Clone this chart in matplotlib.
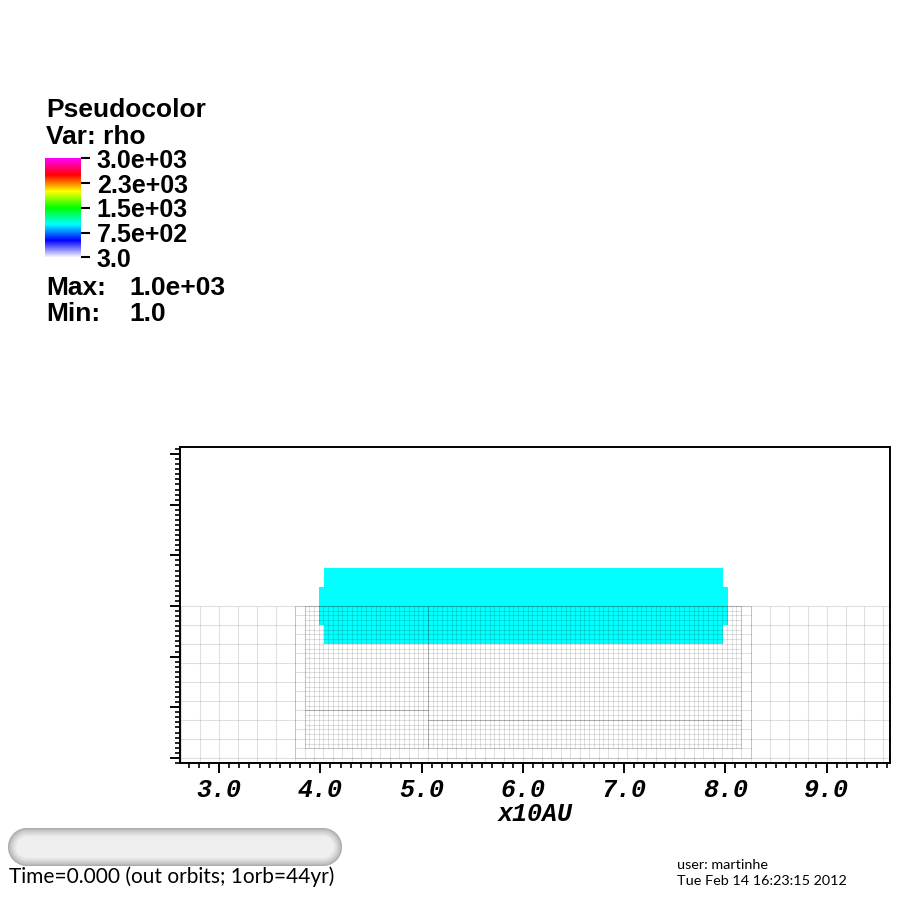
import numpy as np
import matplotlib
matplotlib.use('Agg')
import matplotlib.pyplot as plt
from matplotlib.colors import LinearSegmentedColormap
from matplotlib.collections import LineCollection
from matplotlib.ticker import MultipleLocator

# pseudocolor field rho on the disk cells (x edges, y edges in x10AU)
disk_x = [3.985, 4.035, 7.98, 8.03]
disk_y = [-0.375, -0.1875, 0.1875, 0.375]
disk_rho = [[1.0, 1000.0, 1.0],
            [1000.0, 1000.0, 1000.0],
            [1.0, 1000.0, 1.0]]
rho_min, rho_max = 3.0, 3000.0
cbar_ticks = [3.0, 752.25, 1501.5, 2250.75, 3000.0]
cbar_labels = ['3.0', '7.5e+02', '1.5e+03', '2.3e+03', '3.0e+03']
data_max = '1.0e+03'
data_min = '1.0'

# AMR mesh patches: (level, xlo, xhi, ylo, yhi)
level_dx = [0.1875, 0.09375, 0.046875]
patches = [(0, 2.625, 9.75, -1.5625, 0.0),
           (1, 3.75, 8.25, -1.5, 0.0),
           (2, 3.84375, 5.0625, -1.03125, 0.0),
           (2, 3.84375, 5.0625, -1.40625, -1.03125),
           (2, 5.0625, 8.15625, -1.125, 0.0),
           (2, 5.0625, 8.15625, -1.40625, -1.125)]

xticks = [3.0, 4.0, 5.0, 6.0, 7.0, 8.0, 9.0]
xtick_labels = ['3.0', '4.0', '5.0', '6.0', '7.0', '8.0', '9.0']
xlim = (2.614, 9.627)
ylim = (-1.551, 1.570)

cmap = LinearSegmentedColormap.from_list('visit', [
    (0.0, (0.97, 0.97, 1.0)), (0.17, (0.0, 0.0, 1.0)), (0.333, (0.0, 1.0, 1.0)),
    (0.5, (0.0, 1.0, 0.0)), (0.667, (1.0, 1.0, 0.0)), (0.833, (1.0, 0.0, 0.0)),
    (1.0, (1.0, 0.0, 1.0))])

W = 900.0
def fx(px): return px / W
def fy(py): return 1 - py / W


def uncovered(a0, a1, covers):
    '''parts of [a0, a1] not inside any of the cover intervals'''
    segs = [(a0, a1)]
    for c0, c1 in covers:
        new = []
        for s0, s1 in segs:
            if c1 <= s0 or c0 >= s1:
                new.append((s0, s1))
                continue
            if s0 < c0:
                new.append((s0, c0))
            if c1 < s1:
                new.append((c1, s1))
        segs = new
    return segs


fig = plt.figure(figsize=(9, 9), dpi=100)
ax = fig.add_axes([fx(180), fy(763), 710 / W, 316 / W])

rho = np.ma.masked_less(np.array(disk_rho), rho_min)
pc = ax.pcolormesh(disk_x, disk_y, rho, cmap=cmap, vmin=rho_min, vmax=rho_max, zorder=1)

# mesh lines; coarse lines are skipped where a finer patch covers them
segs = []
for lev, x0, x1, y0, y1 in patches:
    dx = level_dx[lev]
    finer = [p for p in patches if p[0] == lev + 1]
    xs = np.unique(np.r_[np.arange(x0, x1 + dx / 2, dx), x1])
    ys = np.unique(np.r_[np.arange(y1, y0 - dx / 2, -dx), y0])
    for x in xs:
        cov = [(p[3], p[4]) for p in finer if p[1] + 1e-9 < x < p[2] - 1e-9]
        for a, b in uncovered(y0, y1, cov):
            segs.append([(x, a), (x, b)])
    for y in ys:
        cov = [(p[1], p[2]) for p in finer if p[3] + 1e-9 < y < p[4] - 1e-9]
        for a, b in uncovered(x0, x1, cov):
            segs.append([(a, y), (b, y)])
ax.add_collection(LineCollection(segs, colors=[(0, 0, 0, 0.12)], linewidths=0.75, zorder=2))

ax.set_xlim(*xlim)
ax.set_ylim(*ylim)
ax.set_xticks(xticks)
ax.set_xticklabels(xtick_labels, family='Liberation Mono', weight='bold',
                   style='italic', fontsize=18)
ax.xaxis.set_minor_locator(MultipleLocator(0.1))
ax.yaxis.set_major_locator(MultipleLocator(0.5))
ax.yaxis.set_minor_locator(MultipleLocator(0.05))
ax.tick_params(which='major', direction='out', length=7, width=1.4, pad=4,
               labelleft=False, top=False, right=False)
ax.tick_params(which='minor', direction='out', length=3.5, width=1.2,
               top=False, right=False)
for s in ax.spines.values():
    s.set_linewidth(1.4)
ax.set_xlabel('x10AU', family='Liberation Mono', weight='bold', style='italic',
              fontsize=18, labelpad=0)

# legend
lf = dict(family='Liberation Sans', weight='bold', fontsize=19)
fig.text(fx(46), fy(117), 'Pseudocolor', va='baseline', **lf)
fig.text(fx(46), fy(144), 'Var: rho', va='baseline', **lf)
cax = fig.add_axes([fx(45), fy(257.3), 35.7 / W, 99 / W])
cb = fig.colorbar(pc, cax=cax, ticks=cbar_ticks)
cb.outline.set_visible(False)
cax.set_yticklabels(cbar_labels, family='Liberation Sans', weight='bold', fontsize=18)
cax.tick_params(length=6.5, width=1.5, pad=5)
fig.text(fx(46), fy(295), 'Max:', va='baseline', **lf)
fig.text(fx(129), fy(295), data_max, va='baseline', **lf)
fig.text(fx(46), fy(320.7), 'Min:', va='baseline', **lf)
fig.text(fx(129), fy(320.7), data_min, va='baseline', **lf)

# time slider pill
pill = fig.add_axes([fx(8), fy(866), 334 / W, 38 / W])
PW, PH = 334, 38
yy, xx = np.mgrid[0:PH, 0:PW] + 0.5
r = PH / 2
cx = np.clip(xx, r, PW - r)
depth = r - np.hypot(xx - cx, yy - r)
shade = 0.62 + 0.32 * np.clip(depth / 9, 0, 1) ** 0.6
rgba = np.dstack([shade, shade, shade, np.clip(depth + 0.5, 0, 1)])
pill.imshow(rgba, extent=(0, PW, 0, PH), interpolation='bilinear')
pill.set_xlim(0, PW)
pill.set_ylim(0, PH)
pill.axis('off')

fig.text(fx(9), fy(883), 'Time=0.000 (out orbits; 1orb=44yr)', va='baseline',
         family='Lato', fontsize=15)
fig.text(fx(677), fy(865), 'user: martinhe', va='center', family='Lato', fontsize=10.4)
fig.text(fx(677), fy(881), 'Tue Feb 14 16:23:15 2012', va='center', family='Lato',
         fontsize=10.4)

fig.savefig('out.png', dpi=100, facecolor='white')
